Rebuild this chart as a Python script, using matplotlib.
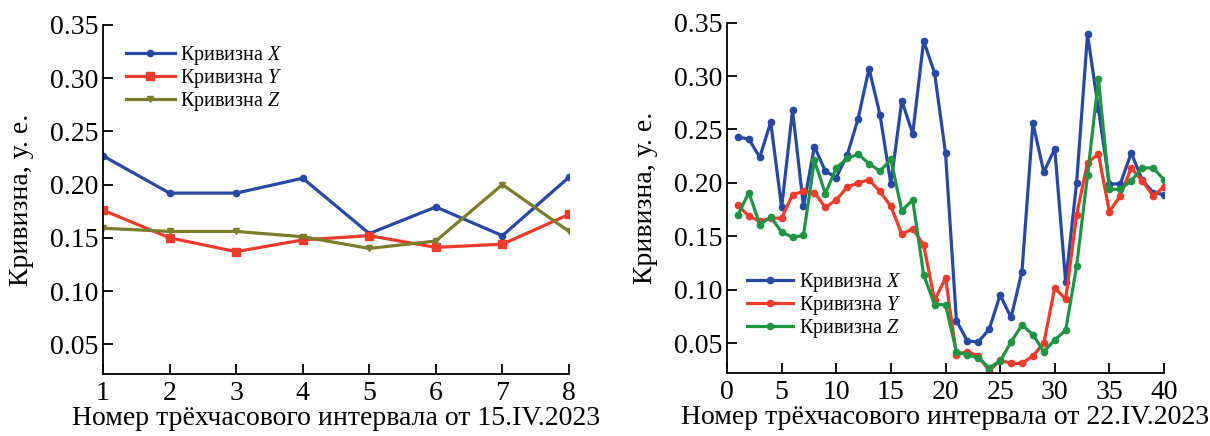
import matplotlib
matplotlib.use('Agg')
import matplotlib.pyplot as plt

plt.rcParams['font.family'] = ['Liberation Serif', 'DejaVu Serif']
plt.rcParams['mathtext.fontset'] = 'custom'
plt.rcParams['mathtext.it'] = 'Liberation Serif:italic'
plt.rcParams['mathtext.rm'] = 'Liberation Serif'

# 15.IV.2023
x_left = [1, 2, 3, 4, 5, 6, 7, 8]
left_x = [0.227, 0.192, 0.192, 0.206, 0.154, 0.179, 0.152, 0.207]
left_y = [0.176, 0.150, 0.137, 0.148, 0.152, 0.141, 0.144, 0.172]
left_z = [0.159, 0.156, 0.156, 0.151, 0.140, 0.147, 0.200, 0.156]

# 22.IV.2023
x_right = list(range(1, 41))
right_x = [0.243, 0.241, 0.224, 0.257, 0.177, 0.268, 0.178, 0.234, 0.211, 0.205,
           0.226, 0.260, 0.307, 0.264, 0.199, 0.277, 0.246, 0.333, 0.303, 0.228,
           0.071, 0.052, 0.051, 0.063, 0.095, 0.074, 0.117, 0.256, 0.210, 0.232,
           0.107, 0.200, 0.339, 0.269, 0.199, 0.199, 0.228, 0.203, 0.191, 0.189]
right_y = [0.179, 0.169, 0.164, 0.167, 0.167, 0.189, 0.192, 0.191, 0.177, 0.184,
           0.196, 0.200, 0.203, 0.192, 0.178, 0.152, 0.157, 0.142, 0.090, 0.111,
           0.039, 0.042, 0.038, 0.024, 0.034, 0.031, 0.031, 0.038, 0.050, 0.102,
           0.091, 0.170, 0.219, 0.227, 0.173, 0.188, 0.214, 0.202, 0.188, 0.196]
right_z = [0.170, 0.191, 0.161, 0.168, 0.154, 0.149, 0.151, 0.221, 0.190, 0.214,
           0.223, 0.227, 0.218, 0.211, 0.222, 0.174, 0.184, 0.114, 0.086, 0.086,
           0.042, 0.039, 0.036, 0.027, 0.033, 0.051, 0.067, 0.058, 0.042, 0.053,
           0.062, 0.122, 0.207, 0.297, 0.194, 0.194, 0.202, 0.214, 0.214, 0.203]

yticks = [0.05, 0.10, 0.15, 0.20, 0.25, 0.30, 0.35]
labels = ['Кривизна $X$', 'Кривизна $Y$', 'Кривизна $Z$']

blue = '#2748a3'
red = '#ef3b2c'
olive = '#7b7d2a'
green = '#1f9444'

W, H = 1210, 436
fig = plt.figure(figsize=(W / 100, H / 100), dpi=100)
ax1 = fig.add_axes([103 / W, 1 - 374 / H, 466 / W, 349 / H])
ax2 = fig.add_axes([727 / W, 1 - 373 / H, 437 / W, 350.3 / H])

lw = 2.3
ax1.plot(x_left, left_x, color=blue, lw=lw, marker='o', ms=4.5, label=labels[0])
ax1.plot(x_left, left_y, color=red, lw=lw, marker='s', ms=6, label=labels[1])
ax1.plot(x_left, left_z, color=olive, lw=lw, marker='v', ms=4, label=labels[2])
ax1.set_xlim(1, 8)
ax1.set_xticks(x_left)

ax2.plot(x_right, right_x, color=blue, lw=lw, marker='o', ms=4.5, label=labels[0])
ax2.plot(x_right, right_y, color=red, lw=lw, marker='o', ms=4.5, label=labels[1])
ax2.plot(x_right, right_z, color=green, lw=lw, marker='o', ms=4.5, label=labels[2])
ax2.set_xlim(0, 40)
ax2.set_xticks(range(0, 41, 5))

for ax, date in [(ax1, '15.IV.2023'), (ax2, '22.IV.2023')]:
    ax.set_ylim(0.022, 0.35)
    ax.set_yticks(yticks)
    ax.set_yticklabels(['%.2f' % v for v in yticks])
    ax.spines['top'].set_visible(False)
    ax.spines['right'].set_visible(False)
    ax.spines['left'].set_linewidth(1.3)
    ax.spines['bottom'].set_linewidth(1.3)
    ax.tick_params(direction='in', length=7, width=1.3, labelsize=20)
    ax.tick_params(axis='x', pad=5)
    ax.tick_params(axis='y', pad=3)
    ax.set_xlabel('Номер трёхчасового интервала от ' + date, fontsize=20, labelpad=0)
    ax.set_ylabel('Кривизна, у. е.', fontsize=20, labelpad=12)

ax1.legend(loc='upper left', bbox_to_anchor=(0.05, 0.945), frameon=False,
           fontsize=14.5, handlelength=2.4, handletextpad=0.25, labelspacing=0.0,
           borderaxespad=0, borderpad=0)
ax2.legend(loc='upper left', bbox_to_anchor=(0.045, 0.29), frameon=False,
           fontsize=14.5, handlelength=2.3, handletextpad=0.3, labelspacing=0.0,
           borderaxespad=0, borderpad=0)

fig.savefig('out.png', dpi=100)
